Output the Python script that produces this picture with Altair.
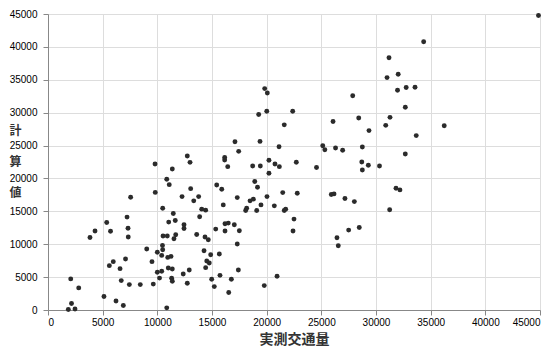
import altair as alt
import pandas as pd

x_vals = [1860, 2470, 2150, 2080, 2810, 3840, 4300, 5370, 5720, 7230, 7320, 7340, 7560,
          5120, 6220, 6890, 5610, 5970, 6590, 6700, 7090, 7440, 8440, 9030, 9510, 9630,
          9790, 9810, 10000, 10000, 10200, 10400, 10470, 10490, 10400, 10950, 11250, 10520,
          10910, 11680, 11520, 11000, 11370, 11310, 11370, 12370, 12920, 12740, 10860, 11090,
          11370, 10490, 11040, 11640, 11460, 12440, 12440, 12260, 13050, 12740, 12990, 10860,
          13600, 13780, 13330, 13870, 14060, 14420, 14360, 14660, 14270, 14880, 14520, 14750,
          14420, 15670, 15340, 15730, 14970, 15210, 16770, 16530, 17410, 17310, 16190, 16490,
          17040, 16190, 17500, 16030, 15430, 15890, 17310, 17100, 17440, 16160, 16160, 16440,
          18480, 18780, 18080, 18170, 19090, 18720, 19420, 18910, 19160, 19390, 20210, 20760,
          21160, 21130, 22710, 20210, 19820, 20060, 19270, 20010, 22380, 21610, 19480, 20030,
          20700, 21610, 21740, 21470, 22800, 22500, 22410, 20950, 19780, 24560, 25130, 25320,
          26300, 26950, 28750, 28700, 29300, 28750, 30320, 25910, 26160, 27160, 28020, 27500,
          28470, 26430, 26550, 26070, 27870, 28420, 29360, 30890, 31280, 31010, 31190, 32030,
          31970, 32760, 33570, 32680, 33680, 32680, 36240, 34360, 31830, 32190, 31250, 44860]

y_vals = [80, 150, 990, 4730, 3360, 11030, 12000, 13300, 11970, 14120, 12420, 11090, 17150,
          2050, 1360, 680, 6740, 7350, 6290, 4470, 7760, 3860, 3860, 9270, 7350, 3940,
          22200, 17880, 8790, 5730, 4850, 5880, 9800, 9170, 8300, 8000, 8150, 11240,
          11240, 11440, 10830, 6390, 6240, 4820, 4360, 5480, 6090, 4060, 19880, 19060,
          21440, 15480, 13360, 13610, 14670, 12950, 12390, 17240, 18450, 23410, 22450, 330,
          11480, 17240, 16590, 14170, 15330, 15180, 11090, 10680, 9010, 8410, 7450, 7150,
          6440, 8510, 12300, 5270, 4670, 3560, 4670, 2650, 6090, 10030, 13110, 13210,
          12950, 12000, 12040, 15980, 19010, 18360, 17090, 25570, 24120, 23180, 22800, 21790,
          16590, 16850, 15120, 15480, 15120, 21890, 21890, 19540, 18670, 25630, 22760, 22200,
          21790, 24820, 22470, 20800, 33660, 32980, 29720, 30220, 30220, 28150, 15980, 17240,
          15830, 15120, 15330, 17850, 17760, 13820, 12000, 5120, 3710, 21670, 24970, 24360,
          24620, 24290, 24770, 22500, 22000, 21290, 21890, 17570, 17650, 16940, 16480, 12150,
          12540, 10980, 9770, 28660, 32570, 29190, 27270, 28070, 29290, 35330, 38360, 35830,
          33410, 33830, 33860, 30830, 26510, 23710, 28000, 40780, 18510, 18260, 15230, 44770]

tick_values = [0, 5000, 10000, 15000, 20000, 25000, 30000, 35000, 40000, 45000]
x_title = "実測交通量"
y_title = ["計", "算", "値"]

df = pd.DataFrame({"x": x_vals, "y": y_vals})

chart = alt.Chart(df).mark_point(
    filled=True, shape="circle", size=24, color="#2b2b2b", opacity=1
).encode(
    x=alt.X("x:Q",
            scale=alt.Scale(domain=[0, 45000], nice=False, zero=True),
            axis=alt.Axis(values=tick_values, title=x_title, format="d",
                          titleY=29, titleBaseline="middle", titleFontSize=14,
                          titleFont="Noto Sans CJK JP", titleFontWeight="bold",
                          titleColor="#333", labelPadding=2)),
    y=alt.Y("y:Q",
            scale=alt.Scale(domain=[0, 45000], nice=False, zero=True),
            axis=alt.Axis(values=tick_values, title=y_title, format="d",
                          titleAngle=0, titleX=-33, titleY=116, titleAlign="center",
                          titleBaseline="middle", titleLineHeight=31, titleFontSize=12,
                          titleFont="Noto Sans CJK JP", titleFontWeight="bold",
                          titleColor="#333", labelPadding=6)),
).properties(
    width=492, height=296,
    autosize=alt.AutoSizeParams(type="none"),
    padding={"left": 40, "top": 6, "right": 3, "bottom": 36},
).configure_axis(
    grid=False, ticks=False, domainColor="#c8c8c8", domainWidth=1,
    labelFont="Liberation Sans", labelFontSize=8.5, labelColor="#444",
).configure_view(
    stroke="#e0e0e0", strokeWidth=1
).configure(background="white")

chart.save("out.html", embed_options={"renderer": "svg", "actions": False})
